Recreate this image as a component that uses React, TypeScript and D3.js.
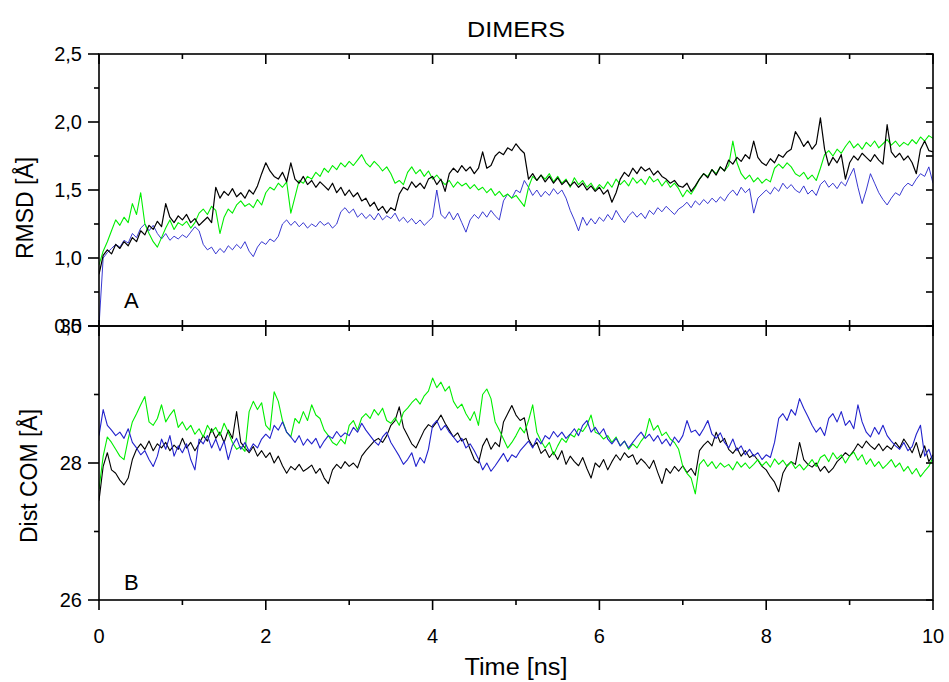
import React from 'react';
import * as d3 from 'd3';

// Time axis: 0..10 ns, samples evenly spaced over the range
const TIME_MAX = 10;

// Panel A: RMSD [Å]
const rmsdBlack = [
  0.88, 1.02, 1.06, 1.03, 1.10, 1.07, 1.12, 1.09, 1.15, 1.12, 1.20, 1.17, 1.24, 1.21, 1.27, 1.23, 1.40, 1.30, 1.26, 1.31,
  1.28, 1.32, 1.26, 1.29, 1.24, 1.27, 1.30, 1.26, 1.52, 1.44, 1.49, 1.46, 1.51, 1.45, 1.48, 1.44, 1.50, 1.47, 1.53, 1.62,
  1.70, 1.64, 1.60, 1.58, 1.63, 1.56, 1.70, 1.58, 1.55, 1.60, 1.54, 1.57, 1.52, 1.56, 1.53, 1.50, 1.55, 1.48, 1.52, 1.46,
  1.50, 1.45, 1.48, 1.42, 1.44, 1.38, 1.41, 1.35, 1.38, 1.33, 1.37, 1.35, 1.47, 1.52, 1.50, 1.56, 1.52, 1.55, 1.51, 1.58,
  1.60, 1.54, 1.58, 1.49, 1.62, 1.66, 1.63, 1.68, 1.64, 1.67, 1.62, 1.66, 1.78, 1.66, 1.68, 1.75, 1.78, 1.76, 1.81, 1.79,
  1.84, 1.80, 1.77, 1.58, 1.62, 1.57, 1.61, 1.56, 1.60, 1.55, 1.59, 1.54, 1.57, 1.53, 1.56, 1.52, 1.55, 1.50, 1.53, 1.49,
  1.52, 1.47, 1.50, 1.41, 1.48, 1.58, 1.63, 1.60, 1.66, 1.62, 1.67, 1.64, 1.66, 1.61, 1.64, 1.60, 1.58, 1.55, 1.57, 1.53,
  1.52, 1.55, 1.49, 1.53, 1.58, 1.62, 1.59, 1.65, 1.61, 1.67, 1.64, 1.72, 1.69, 1.74, 1.71, 1.76, 1.73, 1.86, 1.74, 1.70,
  1.68, 1.73, 1.70, 1.76, 1.74, 1.78, 1.80, 1.93, 1.88, 1.82, 1.86, 1.80, 1.84, 2.03, 1.80, 1.68, 1.74, 1.70, 1.76, 1.58,
  1.70, 1.75, 1.72, 1.77, 1.74, 1.71, 1.76, 1.72, 1.69, 1.98, 1.78, 1.74, 1.77, 1.72, 1.75, 1.70, 1.62, 1.80, 1.86, 1.79,
  1.78,
];
const rmsdGreen = [
  0.95, 1.05, 1.12, 1.20, 1.28, 1.24, 1.30, 1.26, 1.40, 1.32, 1.48, 1.25, 1.18, 1.12, 1.08, 1.15, 1.22, 1.28, 1.21, 1.26,
  1.24, 1.27, 1.22, 1.26, 1.33, 1.36, 1.32, 1.38, 1.35, 1.18, 1.30, 1.36, 1.33, 1.39, 1.42, 1.38, 1.40, 1.37, 1.43, 1.39,
  1.48, 1.52, 1.50, 1.55, 1.52, 1.56, 1.33, 1.45, 1.57, 1.55, 1.60, 1.58, 1.63, 1.60, 1.66, 1.63, 1.68, 1.65, 1.70, 1.67,
  1.71, 1.68, 1.72, 1.76, 1.70, 1.67, 1.71, 1.68, 1.64, 1.67, 1.62, 1.55, 1.57, 1.54, 1.63, 1.67, 1.62, 1.65, 1.60, 1.64,
  1.58, 1.61, 1.57, 1.54, 1.57, 1.52, 1.56, 1.53, 1.55, 1.51, 1.54, 1.50, 1.52, 1.48, 1.51, 1.46, 1.49, 1.45, 1.47, 1.44,
  1.46, 1.42, 1.38, 1.52, 1.60, 1.57, 1.61, 1.58, 1.62, 1.56, 1.60, 1.55, 1.58, 1.52, 1.59, 1.54, 1.57, 1.52, 1.55, 1.50,
  1.54, 1.51, 1.56, 1.52, 1.58, 1.54, 1.57, 1.53, 1.59, 1.55, 1.58, 1.54, 1.60, 1.56, 1.58, 1.53, 1.57, 1.52, 1.55, 1.51,
  1.45, 1.50, 1.47, 1.52, 1.58, 1.62, 1.60, 1.65, 1.62, 1.67, 1.64, 1.68, 1.86, 1.70, 1.62, 1.58, 1.61, 1.56, 1.59, 1.55,
  1.58, 1.56, 1.66, 1.69, 1.66, 1.70, 1.67, 1.62, 1.60, 1.63, 1.58, 1.61, 1.57, 1.66, 1.76, 1.79, 1.75, 1.80, 1.77, 1.82,
  1.86, 1.81, 1.84, 1.80, 1.85, 1.82, 1.86, 1.81, 1.84, 1.87, 1.83, 1.86, 1.82, 1.85, 1.83, 1.87, 1.84, 1.89, 1.86, 1.90,
  1.88,
];
const rmsdBlue = [
  0.50, 1.00, 1.04, 1.07, 1.10, 1.08, 1.13, 1.11, 1.18, 1.15, 1.22, 1.25, 1.20, 1.24, 1.18, 1.14, 1.18, 1.13, 1.16, 1.14,
  1.17, 1.15, 1.19, 1.23, 1.20, 1.10, 1.06, 1.08, 1.03, 1.07, 1.04, 1.09, 1.06, 1.10, 1.07, 1.12, 1.05, 1.01, 1.08, 1.12,
  1.10, 1.14, 1.12, 1.16, 1.25, 1.28, 1.24, 1.27, 1.23, 1.26, 1.22, 1.25, 1.23, 1.27, 1.24, 1.26, 1.22, 1.25, 1.34, 1.37,
  1.33, 1.36, 1.30, 1.33, 1.29, 1.32, 1.28, 1.33, 1.28, 1.31, 1.29, 1.33, 1.27, 1.30, 1.26, 1.29, 1.25, 1.28, 1.24, 1.27,
  1.30, 1.50, 1.32, 1.29, 1.34, 1.28, 1.33, 1.26, 1.19, 1.28, 1.32, 1.29, 1.34, 1.30, 1.35, 1.31, 1.28, 1.42, 1.47, 1.44,
  1.50, 1.48, 1.57, 1.52, 1.46, 1.50, 1.45, 1.49, 1.46, 1.51, 1.47, 1.50, 1.44, 1.35, 1.28, 1.20, 1.30, 1.24, 1.29, 1.25,
  1.30, 1.27, 1.32, 1.28, 1.35, 1.30, 1.26, 1.31, 1.34, 1.30, 1.33, 1.29, 1.35, 1.32, 1.37, 1.34, 1.38, 1.35, 1.32, 1.36,
  1.38, 1.41, 1.37, 1.42, 1.39, 1.43, 1.40, 1.44, 1.41, 1.45, 1.42, 1.47, 1.50, 1.46, 1.52, 1.48, 1.51, 1.33, 1.44, 1.47,
  1.50, 1.47, 1.52, 1.49, 1.55, 1.51, 1.54, 1.50, 1.48, 1.53, 1.47, 1.50, 1.46, 1.54, 1.57, 1.52, 1.55, 1.51, 1.56, 1.53,
  1.60, 1.66, 1.52, 1.40, 1.50, 1.62, 1.55, 1.48, 1.43, 1.39, 1.44, 1.48, 1.46, 1.52, 1.55, 1.53, 1.58, 1.62, 1.60, 1.67,
  1.55,
];

// Panel B: Dist COM [Å]
const distBlack = [
  27.45, 27.95, 28.15, 27.90, 27.85, 27.75, 27.68, 27.78, 28.05, 28.20, 28.28, 28.20, 28.32, 28.18, 28.28, 28.22, 28.30, 28.18, 28.26, 28.20,
  28.36, 28.22, 28.30, 28.18, 28.28, 28.40, 28.32, 28.50, 28.36, 28.45, 28.30, 28.48, 28.36, 28.75, 28.30, 28.22, 28.15, 28.24, 28.10, 28.18,
  28.08, 28.15, 28.00, 28.10, 27.96, 27.85, 27.95, 27.90, 27.98, 27.88, 27.92, 27.97, 27.85, 27.92, 27.78, 27.70, 27.90, 27.98, 27.92, 28.02,
  27.95, 28.00, 27.93, 28.10, 28.18, 28.25, 28.32, 28.36, 28.30, 28.40, 28.55, 28.62, 28.82, 28.52, 28.40, 28.28, 28.22, 28.35, 28.48, 28.56,
  28.52, 28.60, 28.70, 28.58, 28.48, 28.38, 28.44, 28.32, 28.36, 28.20, 28.05, 28.00, 28.25, 28.36, 28.20, 28.30, 28.24, 28.60, 28.72, 28.84,
  28.70, 28.62, 28.66, 28.35, 28.24, 28.30, 28.14, 28.20, 28.08, 28.16, 28.05, 28.18, 27.98, 28.10, 28.02, 27.96, 28.08, 27.92, 27.78, 28.00,
  27.94, 28.05, 27.90, 28.02, 28.12, 28.04, 28.15, 28.08, 28.12, 27.98, 28.06, 28.00, 27.92, 28.04, 27.86, 27.70, 27.92, 27.85, 27.95, 27.88,
  27.96, 27.86, 27.92, 27.82, 28.18, 28.26, 28.32, 28.25, 28.45, 28.30, 28.36, 28.20, 28.14, 28.22, 28.10, 28.18, 28.08, 28.12, 28.04, 27.95,
  27.90, 27.80, 27.72, 27.58, 27.85, 27.96, 28.02, 27.98, 28.30, 28.05, 27.98, 27.94, 28.00, 27.88, 27.95, 27.86, 27.92, 28.02, 28.08, 28.15,
  28.10, 28.18, 28.28, 28.22, 28.32, 28.25, 28.20, 28.28, 28.18, 28.25, 28.20, 28.30, 28.22, 28.35, 28.26, 28.15, 28.30, 28.08, 28.25, 28.02,
  28.12,
];
const distGreen = [
  27.62, 28.10, 28.38, 28.30, 28.20, 28.10, 28.05, 28.35, 28.60, 28.72, 28.85, 28.97, 28.60, 28.55, 28.65, 28.85, 28.60, 28.70, 28.78, 28.52,
  28.60, 28.48, 28.55, 28.42, 28.50, 28.38, 28.55, 28.45, 28.52, 28.40, 28.58, 28.45, 28.30, 28.20, 28.24, 28.17, 28.75, 28.90, 28.78, 28.88,
  28.55, 28.48, 29.04, 28.90, 28.62, 28.45, 28.38, 28.65, 28.58, 28.75, 28.62, 28.85, 28.70, 28.65, 28.48, 28.40, 28.30, 28.26, 28.35, 28.28,
  28.55, 28.62, 28.48, 28.66, 28.72, 28.65, 28.78, 28.70, 28.80, 28.62, 28.58, 28.66, 28.55, 28.74, 28.80, 28.88, 28.94, 28.86, 28.98, 29.05,
  29.24, 29.10, 29.18, 29.05, 29.12, 28.90, 28.80, 28.86, 28.72, 28.62, 28.75, 28.55, 29.00, 29.08, 28.94, 28.60, 28.48, 28.35, 28.22, 28.30,
  28.40, 28.52, 28.44, 28.62, 28.85, 28.45, 28.32, 28.22, 28.30, 28.12, 28.25, 28.36, 28.30, 28.42, 28.38, 28.50, 28.46, 28.55, 28.70, 28.45,
  28.42, 28.35, 28.40, 28.30, 28.38, 28.25, 28.32, 28.20, 28.28, 28.22, 28.32, 28.40, 28.65, 28.48, 28.55, 28.40, 28.45, 28.35, 28.30, 28.20,
  27.95, 27.85, 27.78, 27.55, 27.98, 28.05, 27.95, 28.02, 27.92, 28.00, 27.94, 27.98, 27.90, 28.02, 27.94, 28.00, 27.92, 27.98, 28.05, 27.96,
  28.02, 27.94, 28.06, 27.98, 28.04, 27.95, 28.02, 27.92, 27.98, 27.90, 27.97, 28.05, 27.95, 28.08, 28.12, 28.02, 28.15, 28.06, 28.12, 28.00,
  28.10, 28.16, 28.04, 28.12, 27.98, 28.06, 27.95, 28.02, 27.92, 27.98, 28.05, 27.94, 28.00, 27.88, 27.95, 27.84, 27.92, 27.80, 27.88, 27.95,
  28.08,
];
const distBlue = [
  28.40, 28.78, 28.55, 28.48, 28.40, 28.45, 28.36, 28.50, 28.30, 28.22, 28.12, 28.18, 28.05, 27.95, 28.10, 28.35, 28.20, 28.40, 28.10, 28.25,
  28.15, 28.28, 28.05, 27.90, 28.35, 28.28, 28.40, 28.22, 28.35, 28.18, 28.32, 28.05, 28.26, 28.36, 28.20, 28.30, 28.17, 28.28, 28.22, 28.35,
  28.42, 28.36, 28.55, 28.48, 28.60, 28.45, 28.38, 28.30, 28.40, 28.26, 28.35, 28.28, 28.36, 28.22, 28.32, 28.40, 28.36, 28.46, 28.38, 28.44,
  28.40, 28.52, 28.45, 28.58, 28.48, 28.40, 28.32, 28.26, 28.38, 28.45, 28.30, 28.20, 28.10, 27.98, 28.05, 28.15, 27.95, 28.08, 28.00, 28.20,
  28.55, 28.62, 28.48, 28.55, 28.45, 28.38, 28.30, 28.36, 28.22, 28.28, 28.18, 28.06, 27.90, 28.00, 27.88, 27.96, 28.05, 28.14, 28.02, 28.12,
  28.08, 28.18, 28.25, 28.32, 28.22, 28.36, 28.28, 28.40, 28.35, 28.46, 28.38, 28.45, 28.36, 28.42, 28.50, 28.40, 28.55, 28.62, 28.45, 28.52,
  28.42, 28.50, 28.35, 28.28, 28.36, 28.25, 28.32, 28.22, 28.30, 28.38, 28.45, 28.36, 28.42, 28.32, 28.40, 28.28, 28.35, 28.25, 28.38, 28.30,
  28.40, 28.62, 28.45, 28.48, 28.40, 28.50, 28.62, 28.42, 28.36, 28.44, 28.30, 28.22, 28.35, 28.18, 28.25, 28.12, 28.20, 28.10, 28.15, 28.05,
  28.12, 28.08, 28.30, 28.65, 28.72, 28.62, 28.78, 28.70, 28.94, 28.80, 28.68, 28.55, 28.45, 28.52, 28.40, 28.65, 28.72, 28.60, 28.75, 28.55,
  28.62, 28.50, 28.85, 28.60, 28.45, 28.38, 28.52, 28.42, 28.55, 28.40, 28.32, 28.25, 28.20, 28.30, 28.18, 28.24, 28.42, 28.55, 28.10, 28.20,
  28.02,
];

const xTickValues = [0, 1, 2, 3, 4, 5, 6, 7, 8, 9, 10];
const xTickLabels = ['0', '', '2', '', '4', '', '6', '', '8', '', '10'];
const rmsdTickValues = [0.5, 0.75, 1.0, 1.25, 1.5, 1.75, 2.0, 2.25, 2.5];
const rmsdTickLabels = ['0,5', '', '1,0', '', '1,5', '', '2,0', '', '2,5'];
const distTickValues = [26, 27, 28, 29, 30];
const distTickLabels = ['26', '', '28', '', '30'];

const FONT = '"Liberation Sans", Arial, Helvetica, sans-serif';
const COLORS = { black: '#000000', green: '#00ee00', blue: '#2222cc' };

export default function App() {
  const W = 949;
  const H = 682;
  const left = 99;
  const right = 933;
  const top = 54;
  const mid = 326;
  const bottom = 600;

  const x = d3.scaleLinear().domain([0, TIME_MAX]).range([left, right]);
  const yA = d3.scaleLinear().domain([0.5, 2.5]).range([mid, top]);
  const yB = d3.scaleLinear().domain([26, 30]).range([bottom, mid]);

  const mkLine = (arr: number[], y: d3.ScaleLinear<number, number>) =>
    d3
      .line<number>()
      .x((_, i) => x((i * TIME_MAX) / (arr.length - 1)))
      .y((d) => y(d))(arr) || '';

  const axisColor = '#000';
  const sw = 1.6;

  return (
    <svg
      width={W}
      height={H}
      style={{ position: 'absolute', left: 0, top: 0, background: '#fff' }}
      fontFamily={FONT}
    >
      <rect x={0} y={0} width={W} height={H} fill="#fff" />
      <defs>
        <clipPath id="clipA">
          <rect x={left} y={top} width={right - left} height={mid - top} />
        </clipPath>
        <clipPath id="clipB">
          <rect x={left} y={mid} width={right - left} height={bottom - mid} />
        </clipPath>
      </defs>

      {/* Panel A data */}
      <g clipPath="url(#clipA)" fill="none" strokeLinejoin="round">
        <path d={mkLine(rmsdBlue, yA)} stroke={COLORS.blue} strokeWidth={0.9} />
        <path d={mkLine(rmsdGreen, yA)} stroke={COLORS.green} strokeWidth={1.1} />
        <path d={mkLine(rmsdBlack, yA)} stroke={COLORS.black} strokeWidth={1.2} />
      </g>

      {/* Panel B data */}
      <g clipPath="url(#clipB)" fill="none" strokeLinejoin="round">
        <path d={mkLine(distBlack, yB)} stroke={COLORS.black} strokeWidth={1.1} />
        <path d={mkLine(distGreen, yB)} stroke={COLORS.green} strokeWidth={1.1} />
        <path d={mkLine(distBlue, yB)} stroke={COLORS.blue} strokeWidth={1.1} />
      </g>

      {/* Frames */}
      <g fill="none" stroke={axisColor} strokeWidth={sw}>
        <rect x={left} y={top} width={right - left} height={mid - top} />
        <rect x={left} y={mid} width={right - left} height={bottom - mid} />
      </g>

      {/* X ticks */}
      <g stroke={axisColor} strokeWidth={sw}>
        {xTickValues.map((v, i) => {
          const major = xTickLabels[i] !== '';
          const px = x(v);
          const inner = major ? 10 : 5;
          return (
            <g key={'xt' + i}>
              {/* top of panel A, pointing down */}
              <line x1={px} x2={px} y1={top} y2={top + inner} />
              {/* bottom of panel A, pointing up */}
              <line x1={px} x2={px} y1={mid} y2={mid - 6} />
              {/* top of panel B, pointing down */}
              <line x1={px} x2={px} y1={mid} y2={mid + inner} />
              {/* bottom axis, outward */}
              <line x1={px} x2={px} y1={bottom} y2={bottom + (major ? 10 : 5)} />
            </g>
          );
        })}
      </g>
      <g fontSize={20} textAnchor="middle" fill="#000">
        {xTickValues.map((v, i) =>
          xTickLabels[i] ? (
            <text key={'xl' + i} x={x(v)} y={629} dy="0.71em">
              {xTickLabels[i]}
            </text>
          ) : null
        )}
      </g>

      {/* Y ticks panel A */}
      <g stroke={axisColor} strokeWidth={sw}>
        {rmsdTickValues.map((v, i) => {
          const major = rmsdTickLabels[i] !== '';
          const py = yA(v);
          return (
            <g key={'ya' + i}>
              <line x1={left} x2={left - (major ? 11 : 5)} y1={py} y2={py} />
              <line x1={right} x2={right - 7} y1={py} y2={py} />
            </g>
          );
        })}
        {distTickValues.map((v, i) => {
          const major = distTickLabels[i] !== '';
          const py = yB(v);
          return (
            <g key={'yb' + i}>
              <line x1={left} x2={left - (major ? 11 : 5)} y1={py} y2={py} />
              <line x1={right} x2={right - 7} y1={py} y2={py} />
            </g>
          );
        })}
      </g>
      <g fontSize={20} textAnchor="end" fill="#000">
        {rmsdTickValues.map((v, i) =>
          rmsdTickLabels[i] ? (
            <text key={'yal' + i} x={82} y={yA(v)} dy="0.35em">
              {rmsdTickLabels[i]}
            </text>
          ) : null
        )}
        {distTickValues.map((v, i) =>
          distTickLabels[i] ? (
            <text key={'ybl' + i} x={82} y={yB(v)} dy="0.35em">
              {distTickLabels[i]}
            </text>
          ) : null
        )}
      </g>

      {/* Titles */}
      <text x={516} y={37} fontSize={22} textAnchor="middle" textLength={98} lengthAdjust="spacingAndGlyphs">
        DIMERS
      </text>
      <text x={516} y={675} fontSize={23} textAnchor="middle" textLength={103} lengthAdjust="spacingAndGlyphs">
        Time [ns]
      </text>
      <text
        transform={`translate(33, ${208}) rotate(-90)`}
        fontSize={23}
        textAnchor="middle"
      >
        RMSD [Å]
      </text>
      <text
        transform={`translate(37, ${476}) rotate(-90)`}
        fontSize={23}
        textAnchor="middle"
      >
        Dist COM [Å]
      </text>

      {/* Panel letters */}
      <text x={124} y={308} fontSize={22}>
        A
      </text>
      <text x={124} y={590} fontSize={22}>
        B
      </text>
    </svg>
  );
}
